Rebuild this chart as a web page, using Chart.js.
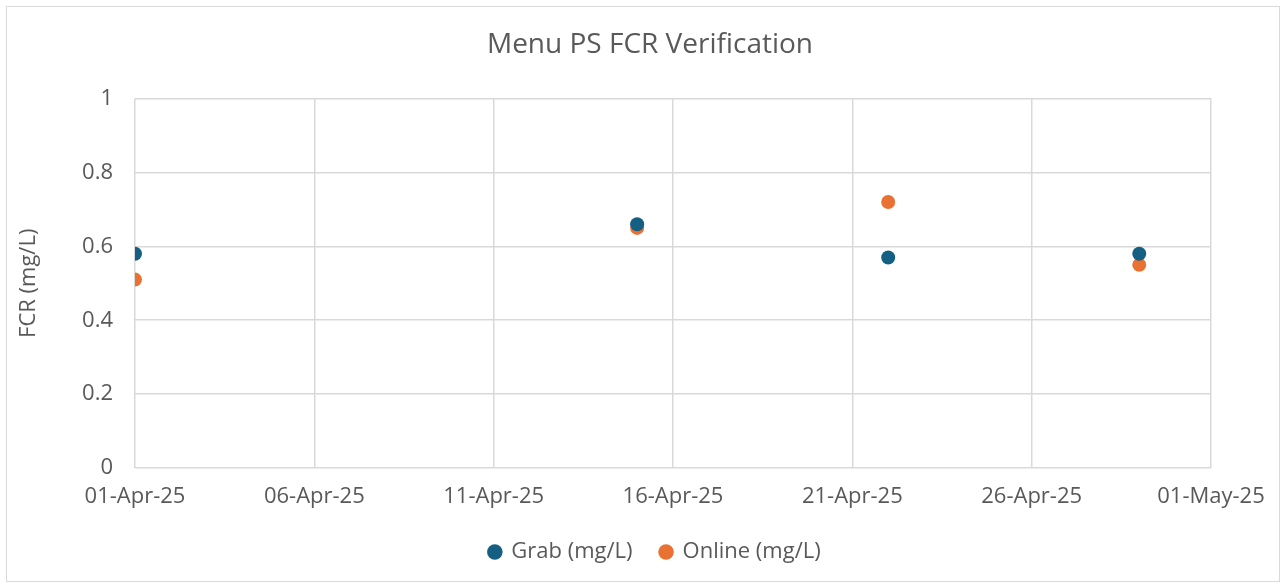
<!DOCTYPE html>
<html>
<head>
<meta charset="utf-8">
<script src="https://cdn.jsdelivr.net/npm/chart.js@4.4.1/dist/chart.umd.min.js"></script>
<style>
html,body{margin:0;padding:0;background:#fff;}
#wrap{position:relative;width:1286px;height:588px;}
</style>
</head>
<body>
<div id="wrap"><canvas id="c" width="1286" height="588"></canvas></div>
<script>
const sampleDates = ["2025-04-01", "2025-04-15", "2025-04-22", "2025-04-29"];
const grabValues = [0.58, 0.66, 0.57, 0.58];
const onlineValues = [0.51, 0.65, 0.72, 0.55];
const xTickLabels = ["01-Apr-25", "06-Apr-25", "11-Apr-25", "16-Apr-25", "21-Apr-25", "26-Apr-25", "01-May-25"];
const yTickValues = [0, 0.2, 0.4, 0.6, 0.8, 1];

const startDay = Date.UTC(2025, 3, 1);
const dayOffset = s => (Date.parse(s + "T00:00:00Z") - startDay) / 86400000;
const toPoints = vals => sampleDates.map((d, i) => ({x: dayOffset(d), y: vals[i]}));

const textColor = "#595959";
const gridColor = "#d9d9d9";
const font = "'Open Sans', 'Liberation Sans', sans-serif";

const borderPlugin = {
  id: "outerBorder",
  beforeDraw(chart) {
    const ctx = chart.ctx;
    ctx.save();
    ctx.fillStyle = "#fff";
    ctx.fillRect(0, 0, chart.width, chart.height);
    ctx.strokeStyle = "#d9d9d9";
    ctx.lineWidth = 1;
    ctx.strokeRect(6.5, 6.5, 1273, 575);
    ctx.restore();
  },
  afterLayout(chart) {
    if (chart.titleBlock) { chart.titleBlock.left = 14; chart.titleBlock.right = 1286; }
    if (chart.legend) { chart.legend.left = 26; chart.legend.right = 1284; }
  }
};

new Chart(document.getElementById("c"), {
  type: "scatter",
  data: {
    datasets: [
      {label: "Grab (mg/L)", data: toPoints(grabValues), backgroundColor: "#156082", borderColor: "#156082", pointRadius: 7, pointHoverRadius: 7, borderWidth: 0},
      {label: "Online (mg/L)", data: toPoints(onlineValues), backgroundColor: "#E97132", borderColor: "#E97132", pointRadius: 7, pointHoverRadius: 7, borderWidth: 0}
    ]
  },
  options: {
    responsive: false,
    animation: false,
    layout: {padding: {left: 10, right: 75, top: 0, bottom: 15}},
    plugins: {
      title: {display: true, text: "Menu PS FCR Verification", color: textColor,
        font: {family: font, size: 28, weight: "normal"}, padding: {top: 28, bottom: 37}},
      legend: {position: "bottom",
        labels: {usePointStyle: true, pointStyle: "circle", boxWidth: 11, boxHeight: 11, color: textColor,
          font: {family: font, size: 22}, padding: 28}},
      tooltip: {enabled: false}
    },
    scales: {
      x: {
        type: "linear", min: 0, max: 30,
        afterBuildTicks(scale) { scale.ticks = xTickLabels.map((l, i) => ({value: i * 5})); },
        ticks: {callback: (v) => xTickLabels[Math.round(v / 5)], color: textColor, font: {family: font, size: 22}, padding: 16, maxRotation: 0, autoSkip: false},
        grid: {color: gridColor, drawTicks: false, lineWidth: 1.5},
        border: {display: false},
        afterFit(scale) { scale.height = 45; scale.paddingLeft = 0; scale.paddingRight = 0; }
      },
      y: {
        min: 0, max: 1,
        afterBuildTicks(scale) { scale.ticks = yTickValues.map(v => ({value: v})); },
        ticks: {callback: v => String(Math.round(v * 10) / 10), color: textColor, font: {family: font, size: 22}, padding: 22},
        grid: {color: gridColor, drawTicks: false, lineWidth: 1.5},
        border: {display: false},
        title: {display: true, text: "FCR (mg/L)", color: textColor, font: {family: font, size: 22}, padding: {top: 6, bottom: 0}},
        afterFit(scale) { scale.width = 125; scale.paddingTop = 0; scale.paddingBottom = 0; }
      }
    }
  },
  plugins: [borderPlugin]
});
</script>
</body>
</html>
